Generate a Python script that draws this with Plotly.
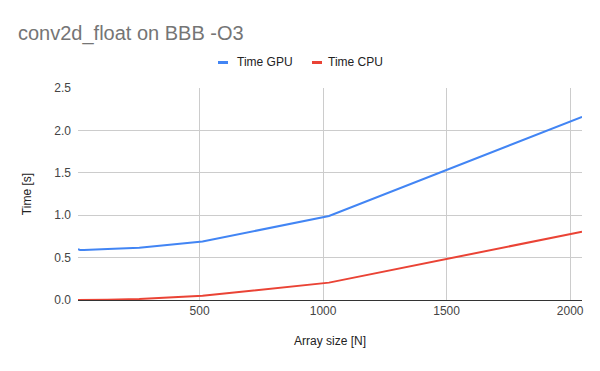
import plotly.graph_objects as go

array_size = [8, 16, 32, 64, 128, 256, 512, 1024, 2048]
time_gpu = [0.60, 0.59, 0.59, 0.595, 0.60, 0.615, 0.69, 0.99, 2.16]
time_cpu = [0.0, 0.0, 0.0, 0.001, 0.003, 0.012, 0.05, 0.205, 0.805]
x_ticks = [500, 1000, 1500, 2000]
y_ticks = [0.0, 0.5, 1.0, 1.5, 2.0, 2.5]
y_tick_labels = ["0.0", "0.5", "1.0", "1.5", "2.0", "2.5"]
series_names = ["Time GPU", "Time CPU"]
series_colors = ["#4285F4", "#EA4335"]

FONT = "Arial, Liberation Sans, sans-serif"
W, H = 600, 371
ML, MR, MT, MB = 78, 18, 88, 71
PW, PH = W - ML - MR, H - MT - MB


def px_x(px):
    return (px - ML) / PW


def px_y(py):
    return (H - MB - py) / PH


fig = go.Figure()
for name, ys, color in zip(series_names, [time_gpu, time_cpu], series_colors):
    fig.add_trace(go.Scatter(x=array_size, y=ys, mode="lines", name=name,
                             line=dict(color=color, width=2), showlegend=False))

# legend drawn like the original (short bar + label)
legend_items = [(218, 237), (312, 328)]
for (bar_x, text_x), name, color in zip(legend_items, series_names, series_colors):
    fig.add_shape(type="rect", xref="paper", yref="paper",
                  x0=px_x(bar_x), x1=px_x(bar_x + 10),
                  y0=px_y(64), y1=px_y(61),
                  fillcolor=color, line=dict(width=0))
    fig.add_annotation(xref="paper", yref="paper", x=px_x(text_x - 2), y=px_y(61.5),
                       xanchor="left", yanchor="middle", showarrow=False,
                       text=name, font=dict(family=FONT, size=12, color="#222222"))

fig.update_layout(
    width=W, height=H,
    margin=dict(l=ML, r=MR, t=MT, b=MB),
    paper_bgcolor="white", plot_bgcolor="white",
    font=dict(family=FONT, size=12, color="#444444"),
    title=dict(text="conv2d_float on BBB -O3", x=18/W, xanchor="left",
               y=1 - 32.5/H, yanchor="middle",
               font=dict(family=FONT, size=20, color="#757575")),
    showlegend=False,
)
fig.update_xaxes(
    range=[array_size[0], array_size[-1]],
    tickvals=x_ticks, ticktext=[str(v) for v in x_ticks],
    showgrid=True, gridcolor="#CCCCCC", gridwidth=1,
    zeroline=False, showline=True, linecolor="#333333", linewidth=1,
    ticks="", tickfont=dict(size=12, color="#444444"),
    title=dict(text="Array size [N]", font=dict(size=12, color="#222222"), standoff=19),
)
fig.update_yaxes(
    range=[0, 2.5],
    tickvals=y_ticks, ticktext=y_tick_labels,
    showgrid=True, gridcolor="#CCCCCC", gridwidth=1,
    zeroline=False, showline=False,
    ticks="", ticklabelstandoff=6, tickfont=dict(size=12, color="#444444"),
    title=dict(text="Time [s]", font=dict(size=12, color="#222222"), standoff=20),
)

fig.write_html("out.html", config={"displayModeBar": False},
               post_script="document.body.style.margin='0';")
